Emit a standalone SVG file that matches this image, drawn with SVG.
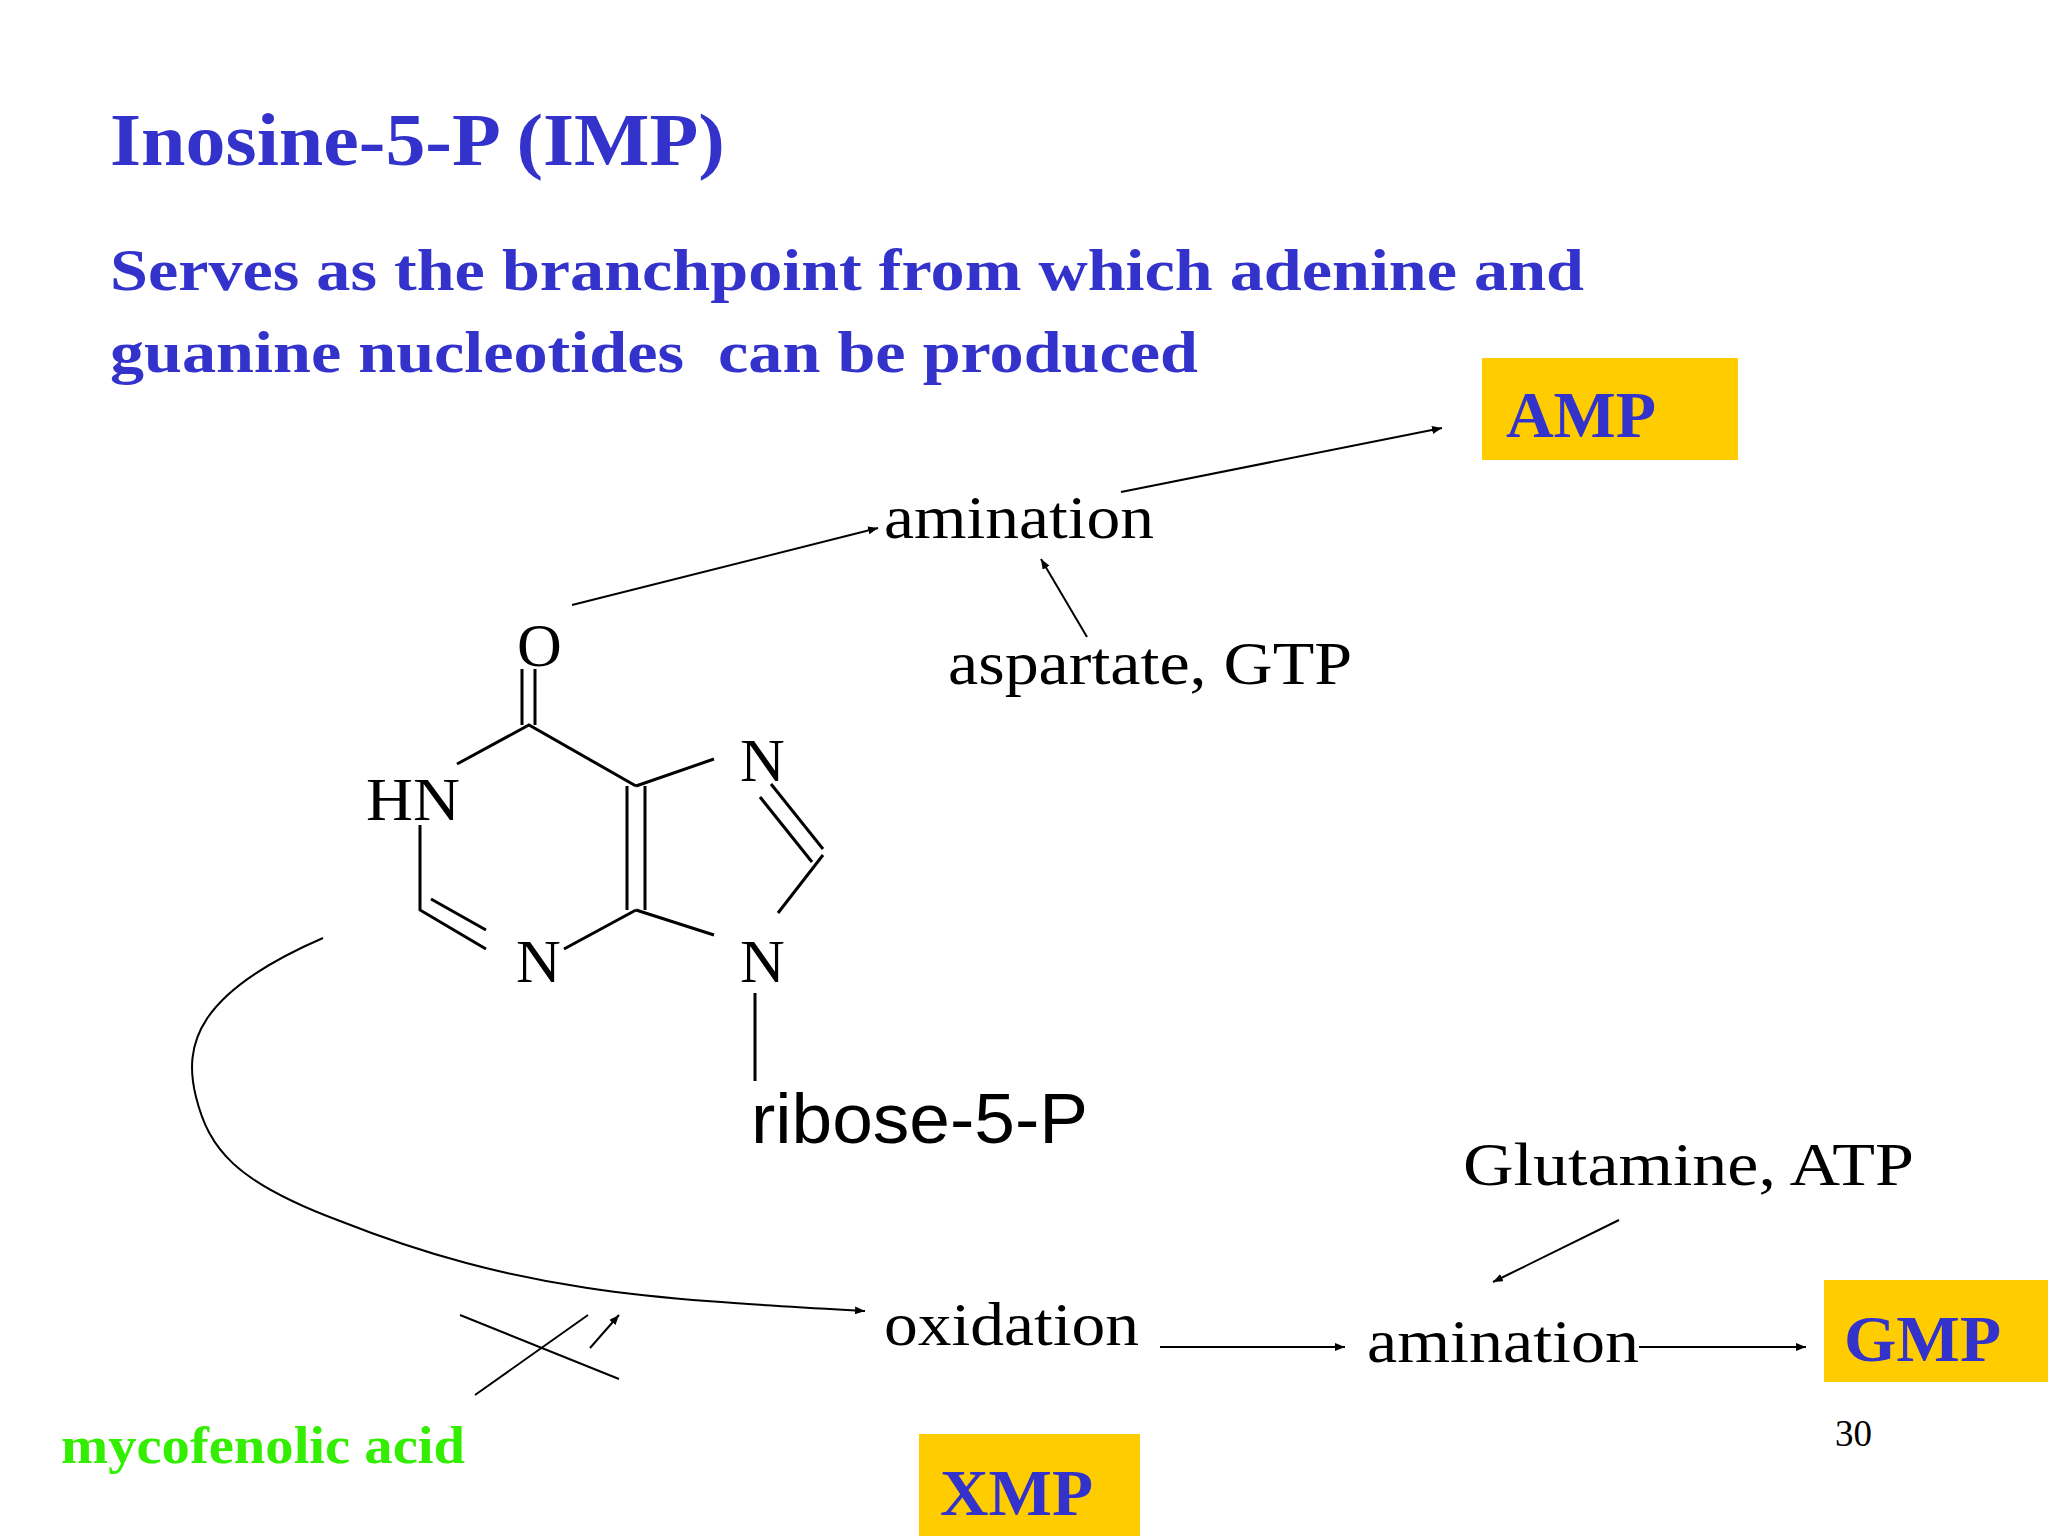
<svg xmlns="http://www.w3.org/2000/svg" width="2048" height="1536" viewBox="0 0 2048 1536">
<style>
.h{font-family:"Liberation Serif",serif;font-weight:bold;fill:#3333CC}
.t{font-family:"Liberation Serif",serif;fill:#000;font-size:62px}
.b{fill:#FFCC00}
.l{stroke:#000;stroke-width:3;fill:none}
.c{stroke:#000;stroke-width:2;fill:none}
</style>
<defs><marker id="a" markerWidth="10" markerHeight="8" refX="10" refY="4" orient="auto" markerUnits="userSpaceOnUse"><path d="M0,0L10,4L0,8z" fill="#000"/></marker></defs>
<rect width="2048" height="1536" fill="#fff"/>
<text class="h" x="110" y="165" font-size="75" textLength="615" lengthAdjust="spacingAndGlyphs">Inosine-5-P (IMP)</text>
<text class="h" x="110" y="290" font-size="60" textLength="1474" lengthAdjust="spacingAndGlyphs">Serves as the branchpoint from which adenine and</text>
<text class="h" x="110" y="372" font-size="60" textLength="1088" lengthAdjust="spacingAndGlyphs" xml:space="preserve">guanine nucleotides  can be produced</text>
<g id="amp"><rect class="b" x="1482" y="358" width="256" height="102"/><text class="h" x="1506" y="437" font-size="66" textLength="150" lengthAdjust="spacingAndGlyphs">AMP</text></g>
<g id="gmp"><rect class="b" x="1824" y="1280" width="224" height="102"/><text class="h" x="1844" y="1361" font-size="66" textLength="157" lengthAdjust="spacingAndGlyphs">GMP</text></g>
<g id="xmp"><rect class="b" x="919" y="1434" width="221" height="102"/><text class="h" x="940" y="1515" font-size="66" textLength="153" lengthAdjust="spacingAndGlyphs">XMP</text></g>
<g id="imp">
<text class="t" x="517" y="666" font-size="66">O</text>
<text class="t" x="366" y="820" font-size="66" textLength="94" lengthAdjust="spacingAndGlyphs">HN</text>
<text class="t" x="516" y="982" font-size="66">N</text>
<text class="t" x="740" y="781" font-size="66">N</text>
<text class="t" x="740" y="982" font-size="66">N</text>
<path class="l" d="M522,669V725M535,669V725M457,764L529,725L636,786M420,825V910L486,949M431,899L486,930M564,949L636,910M627,786V910M645,786V910M636,786L714,759M771,784L823,849M760,797L812,862M823,855L778,913M636,910L714,935M755,993V1081"/>
<text x="751" y="1143" font-family="Liberation Sans,sans-serif" font-size="70" textLength="337" lengthAdjust="spacingAndGlyphs">ribose-5-P</text>
</g>
<g id="labels">
<text class="t" x="884" y="538" textLength="270" lengthAdjust="spacingAndGlyphs">amination</text>
<text class="t" x="948" y="684" textLength="404" lengthAdjust="spacingAndGlyphs">aspartate, GTP</text>
<text class="t" x="884" y="1345" textLength="255" lengthAdjust="spacingAndGlyphs">oxidation</text>
<text class="t" x="1367" y="1362" textLength="272" lengthAdjust="spacingAndGlyphs">amination</text>
<text class="t" x="1463" y="1185" textLength="451" lengthAdjust="spacingAndGlyphs">Glutamine, ATP</text>
<text x="61" y="1463" font-family="Liberation Serif,serif" font-weight="bold" font-size="52" fill="#33EE00" textLength="404" lengthAdjust="spacingAndGlyphs">mycofenolic acid</text>
<text x="1835" y="1446" font-family="Liberation Serif,serif" font-size="37">30</text>
</g>
<g id="connectors">
<path class="c" marker-end="url(#a)" d="M572,605L878,528"/>
<path class="c" marker-end="url(#a)" d="M1121,492L1442,428"/>
<path class="c" marker-end="url(#a)" d="M1087,637L1041,559"/>
<path class="c" marker-end="url(#a)" d="M323,938C196,993 183,1045 196,1097C209,1149 235,1182 340,1221C522,1293 653,1299 865,1311"/>
<path class="c" marker-end="url(#a)" d="M1160,1347H1345"/>
<path class="c" marker-end="url(#a)" d="M1639,1347H1806"/>
<path class="c" marker-end="url(#a)" d="M1619,1220L1493,1282"/>
<path class="c" d="M460,1315L619,1379M475,1395L588,1315"/>
<path class="c" marker-end="url(#a)" d="M590,1348L619,1315"/>
</g>
</svg>
